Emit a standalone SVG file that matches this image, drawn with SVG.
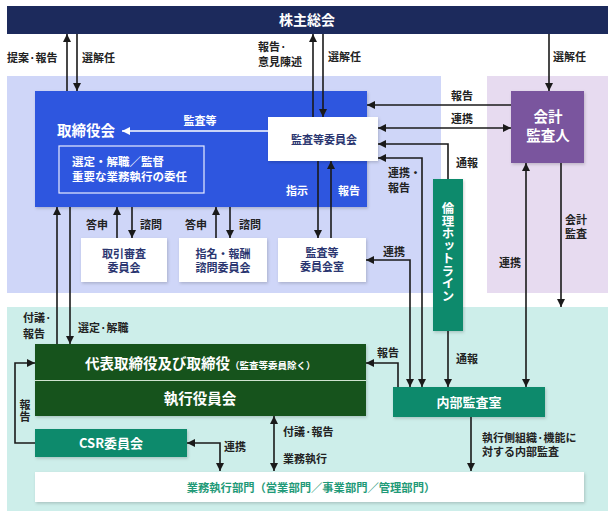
<svg xmlns="http://www.w3.org/2000/svg" width="614" height="517" viewBox="0 0 614 517">
<style>
text{font-family:"Noto Sans CJK JP","Noto Sans",sans-serif;font-weight:bold}
.lb{font-size:11px;fill:#222}
.wt{fill:#fff}
.nv{fill:#2b3670;font-size:11px}
.ln{fill:none;stroke:#1a1a1a;stroke-width:1.6}
.ah{marker-end:url(#ah)}
.bh{marker-start:url(#ah);marker-end:url(#ah)}
</style>
<defs>
<marker id="ah" viewBox="0 0 10 10" refX="10" refY="5" markerWidth="8" markerHeight="8" markerUnits="userSpaceOnUse" orient="auto-start-reverse"><path d="M0,0 L10,5 L0,10 z" fill="#1a1a1a"/></marker>
<marker id="wh" viewBox="0 0 10 10" refX="10" refY="5" markerWidth="8" markerHeight="8" markerUnits="userSpaceOnUse" orient="auto-start-reverse"><path d="M0,0 L10,5 L0,10 z" fill="#fff"/></marker>
<filter id="sh" x="-10%" y="-10%" width="120%" height="130%"><feDropShadow dx="1" dy="1.5" stdDeviation="1.5" flood-color="#000" flood-opacity="0.18"/></filter>
</defs>

<!-- background regions -->
<rect x="7" y="76" width="434" height="217" fill="#cfd6f8"/>
<rect x="487" y="76" width="121" height="217" fill="#e7dbf0"/>
<rect x="7" y="307" width="601" height="204" fill="#cdeeea"/>

<g id="shareholders"><rect x="7" y="6" width="601" height="28" fill="#1c2a5c"/><text x="307" y="25" text-anchor="middle" class="wt" font-size="14">株主総会</text></g>

<g id="board"><rect x="35" y="91" width="332" height="116" fill="#2f56df" filter="url(#sh)"/>
<text x="57" y="136" class="wt" font-size="14.5">取締役会</text>
<rect x="59" y="146" width="145" height="47" fill="none" stroke="#e8ecff" stroke-width="1.2"/>
<text x="72" y="166" class="wt" font-size="11.5">選定・解職／監督</text>
<text x="72" y="181" class="wt" font-size="11.5">重要な業務執行の委任</text>
<text x="297" y="195" text-anchor="middle" class="wt" font-size="11">指示</text>
<text x="349" y="195" text-anchor="middle" class="wt" font-size="11">報告</text>
</g>

<g id="audit-committee"><rect x="268" y="117" width="110" height="44" fill="#fff" filter="url(#sh)"/><text x="324" y="144" text-anchor="middle" class="nv">監査等委員会</text></g>

<g id="accounting-auditor"><rect x="511" y="91" width="73" height="72" fill="#7a559e" filter="url(#sh)"/><text x="548" y="122" text-anchor="middle" class="wt" font-size="14.5">会計</text><text x="548" y="141" text-anchor="middle" class="wt" font-size="14.5">監査人</text></g>

<g id="transaction-committee"><rect x="81" y="238" width="86" height="44" fill="#fff" filter="url(#sh)"/><text x="124" y="258" text-anchor="middle" class="nv">取引審査</text><text x="124" y="272" text-anchor="middle" class="nv">委員会</text></g>

<g id="nomination-committee"><rect x="179" y="238" width="88" height="44" fill="#fff" filter="url(#sh)"/><text x="223" y="258" text-anchor="middle" class="nv">指名・報酬</text><text x="223" y="272" text-anchor="middle" class="nv">諮問委員会</text></g>

<g id="audit-office"><rect x="278" y="238" width="88" height="44" fill="#fff" filter="url(#sh)"/><text x="322" y="257" text-anchor="middle" class="nv">監査等</text><text x="322" y="271" text-anchor="middle" class="nv">委員会室</text></g>

<g id="hotline"><rect x="433" y="179" width="30" height="152" fill="#0b8a6c" filter="url(#sh)"/><text x="448" y="252" text-anchor="middle" class="wt" font-size="12.5" style="writing-mode:vertical-rl;text-orientation:upright">倫理ホットライン</text></g>

<g id="representative"><rect x="35" y="344" width="331" height="72" fill="#16521a" filter="url(#sh)"/><line x1="35" y1="380.5" x2="366" y2="380.5" stroke="#cfe3cf" stroke-width="1"/>
<text x="85" y="369" class="wt" font-size="14.5">代表取締役及び取締役<tspan font-size="9.5">（監査等委員除く）</tspan></text>
<text x="200" y="404" text-anchor="middle" class="wt" font-size="14.5">執行役員会</text></g>

<g id="internal-audit"><rect x="393" y="387" width="152" height="30" fill="#0b8a6c" filter="url(#sh)"/><text x="469" y="407" text-anchor="middle" class="wt" font-size="13">内部監査室</text></g>

<g id="csr"><rect x="35" y="429" width="152" height="28" fill="#0b8a6c" filter="url(#sh)"/><text x="111" y="448" text-anchor="middle" class="wt" font-size="13">CSR委員会</text></g>

<g id="business"><rect x="35" y="472" width="549" height="30" fill="#fff" filter="url(#sh)"/><text x="311" y="492" text-anchor="middle" font-size="11.3" fill="#1f9a78">業務執行部門（営業部門／事業部門／管理部門）</text></g>

<g id="connectors">
<path class="ln ah" d="M67,91 V34"/>
<path class="ln ah" d="M77,34 V91"/>
<path class="ln ah" d="M313,117 V34"/>
<path class="ln ah" d="M323,34 V117"/>
<path class="ln ah" d="M549,34 V91"/>
<path class="ln ah" d="M511,105 H367"/>
<path class="ln bh" d="M378,128 H511"/>
<path class="ln ah" d="M448,179 V144 H378"/>
<path class="ln bh" d="M422,387 V158 H378"/>
<path class="ln bh" d="M410,387 V260 H366"/>
<path class="ln ah" d="M448,331 V387"/>
<path class="ln bh" d="M526,163 V387"/>
<path class="ln ah" d="M561,163 V307"/>
<path class="ln ah" d="M398,387 V363 H366"/>
<path class="ln ah" d="M318,161 V238"/>
<path class="ln ah" d="M331,238 V161"/>
<path class="ln ah" d="M117,238 V207"/>
<path class="ln ah" d="M132,207 V238"/>
<path class="ln ah" d="M216,238 V207"/>
<path class="ln ah" d="M230,207 V238"/>
<path class="ln ah" d="M57,344 V207"/>
<path class="ln ah" d="M70,207 V344"/>
<path class="ln ah" d="M35,443 H15 V363 H35"/>
<path class="ln bh" d="M220,471 V443 H187"/>
<path class="ln bh" d="M274,416 V471"/>
<path class="ln ah" d="M471,417 V471"/>
<path d="M268,131 H122" fill="none" stroke="#fff" stroke-width="1.5" marker-end="url(#wh)"/>
</g>

<g id="labels">
<text x="7" y="62" class="lb">提案·報告</text>
<text x="82" y="62" class="lb">選解任</text>
<text x="258" y="51" class="lb">報告·</text>
<text x="258" y="66" class="lb">意見陳述</text>
<text x="328" y="61" class="lb">選解任</text>
<text x="553" y="61" class="lb">選解任</text>
<text x="462" y="100" text-anchor="middle" class="lb">報告</text>
<text x="462" y="123" text-anchor="middle" class="lb">連携</text>
<text x="456" y="167" class="lb">通報</text>
<text x="200" y="125" text-anchor="middle" class="wt" font-size="11">監査等</text>
<text x="97" y="229" text-anchor="middle" class="lb">答申</text>
<text x="151" y="229" text-anchor="middle" class="lb">諮問</text>
<text x="196" y="229" text-anchor="middle" class="lb">答申</text>
<text x="250" y="229" text-anchor="middle" class="lb">諮問</text>
<text x="388" y="177" class="lb">連携・</text>
<text x="388" y="192" class="lb">報告</text>
<text x="383" y="256" class="lb">連携</text>
<text x="499" y="267" class="lb">連携</text>
<text x="565" y="224" class="lb">会計</text>
<text x="565" y="238" class="lb">監査</text>
<text x="23" y="322" class="lb">付議·</text>
<text x="23" y="338" class="lb">報告</text>
<text x="78" y="332" class="lb">選定·解職</text>
<text x="377" y="357" class="lb">報告</text>
<text x="456" y="363" class="lb">通報</text>
<text x="25" y="409" text-anchor="middle" class="lb">報</text>
<text x="25" y="421" text-anchor="middle" class="lb">告</text>
<text x="224" y="451" class="lb">連携</text>
<text x="283" y="436" class="lb">付議·報告</text>
<text x="283" y="463" class="lb">業務執行</text>
<text x="482" y="442" class="lb">執行側組織·機能に</text>
<text x="482" y="456" class="lb">対する内部監査</text>
</g>
</svg>
